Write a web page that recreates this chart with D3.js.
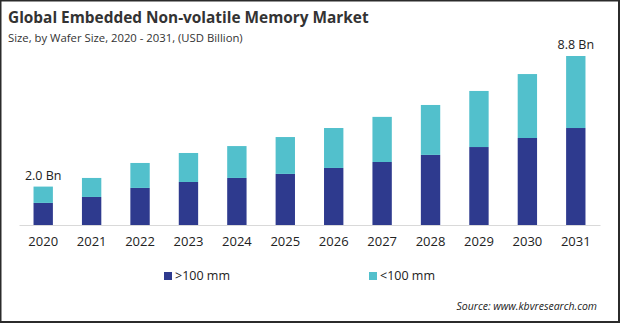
<!DOCTYPE html>
<html>
<head>
<meta charset="utf-8">
<script src="https://cdn.jsdelivr.net/npm/d3@7"></script>
<style>
  body { margin: 0; background: #fff; }
  svg { display: block; font-family: "Open Sans", sans-serif; }
</style>
</head>
<body>
<div id="chart"></div>
<script>
// values, USD billion
var years = ['2020', '2021', '2022', '2023', '2024', '2025', '2026', '2027', '2028', '2029', '2030', '2031'];
var over100 = [1.15, 1.46, 1.93, 2.24, 2.45, 2.66, 2.97, 3.28, 3.65, 4.06, 4.53, 5.05];
var under100 = [0.85, 0.99, 1.30, 1.51, 1.66, 1.92, 2.08, 2.35, 2.60, 2.92, 3.33, 3.75];
var seriesNames = ['>100 mm', '<100 mm'];
var seriesColors = ['#2e3a8e', '#52c0cc'];
var endLabels = {'2020': '2.0 Bn', '2031': '8.8 Bn'};

var w = 620;
var h = 323;

var svg = d3.select('#chart')
    .append('svg')
    .attr('width', w)
    .attr('height', h);

svg.append('rect')
    .attr('x', 0.5)
    .attr('y', 0.5)
    .attr('width', w - 1.5)
    .attr('height', h - 1.5)
    .attr('fill', 'none')
    .attr('stroke', '#2b2b2b')
    .attr('stroke-width', 2);

svg.append('text')
    .attr('x', 8)
    .attr('y', 23)
    .attr('font-size', 15.4)
    .attr('font-weight', 'bold')
    .attr('fill', '#333')
    .text('Global Embedded Non-volatile Memory Market');

svg.append('text')
    .attr('x', 8)
    .attr('y', 42)
    .attr('font-size', 11.3)
    .attr('fill', '#333')
    .text('Size, by Wafer Size, 2020 - 2031, (USD Billion)');

var rows = years.map(function(y, i) {
    return {year: y, a: over100[i], b: under100[i]};
});
var stack = d3.stack().keys(['a', 'b'])(rows);

var xScale = d3.scaleBand()
    .domain(years)
    .range([19, 600])
    .paddingInner(0.6)
    .paddingOuter(0.3);

var yScale = d3.scaleLinear()
    .domain([0, 8.8])
    .range([225, 56]);

svg.append('g')
    .selectAll('g')
    .data(stack)
    .enter()
    .append('g')
    .attr('fill', function(d, i) { return seriesColors[i]; })
    .selectAll('rect')
    .data(function(d) { return d; })
    .enter()
    .append('rect')
    .attr('x', function(d) { return xScale(d.data.year); })
    .attr('y', function(d) { return yScale(d[1]); })
    .attr('width', xScale.bandwidth())
    .attr('height', function(d) { return yScale(d[0]) - yScale(d[1]); });

var xAxis = d3.axisBottom(xScale).tickSize(0).tickPadding(12);
var gx = svg.append('g')
    .attr('transform', 'translate(0,225)')
    .call(xAxis);
gx.select('.domain').attr('stroke', '#d9d9d9').attr('stroke-width', 1);
gx.selectAll('text')
    .attr('font-size', 13)
    .attr('font-family', '"Open Sans", sans-serif')
    .attr('fill', '#222');

svg.append('g')
    .selectAll('text')
    .data(rows.filter(function(d) { return endLabels[d.year]; }))
    .enter()
    .append('text')
    .attr('x', function(d) { return xScale(d.year) + xScale.bandwidth() / 2; })
    .attr('y', function(d) { return yScale(d.a + d.b) - 7; })
    .attr('text-anchor', 'middle')
    .attr('font-size', 12.5)
    .attr('fill', '#222')
    .text(function(d) { return endLabels[d.year]; });

var legendX = [164, 369];
var legend = svg.append('g')
    .selectAll('g')
    .data(seriesNames)
    .enter()
    .append('g')
    .attr('transform', function(d, i) { return 'translate(' + legendX[i] + ',272)'; });
legend.append('rect')
    .attr('width', 8)
    .attr('height', 8)
    .attr('fill', function(d, i) { return seriesColors[i]; });
legend.append('text')
    .attr('x', 11)
    .attr('y', 8)
    .attr('font-size', 12.5)
    .attr('fill', '#222')
    .text(function(d) { return d; });

svg.append('text')
    .attr('x', 597)
    .attr('y', 310)
    .attr('text-anchor', 'end')
    .attr('font-size', 10.5)
    .attr('font-style', 'italic')
    .attr('fill', '#222')
    .text('Source: www.kbvresearch.com');
</script>
</body>
</html>
